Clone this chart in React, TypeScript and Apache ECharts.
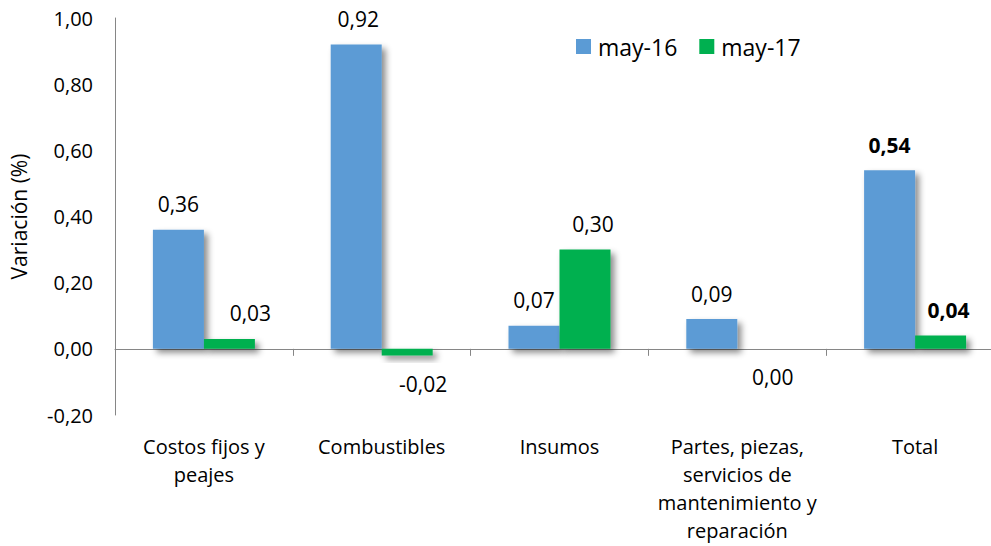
import React, { useEffect, useRef } from "react";
import * as echarts from "echarts";

const categories = [
  "Costos fijos y\npeajes",
  "Combustibles",
  "Insumos",
  "Partes, piezas,\nservicios de\nmantenimiento y\nreparación",
  "Total",
];
const seriesNames = ["may-16", "may-17"];
const may16 = [0.36, 0.92, 0.07, 0.09, 0.54];
const may17 = [0.03, -0.02, 0.3, 0.0, 0.04];
const yTicks = { min: -0.2, max: 1.0, interval: 0.2 };

// label styling per item (not data)
const may16LabelOffsets = [0, 2, 0, 0, 0];
const may17LabelOffsets = [21, 16, 8, 10, 8];
const may17LabelBelow = [false, true, false, true, false];
const boldIndex = 4;

const FONT = "'Open Sans', 'Noto Sans', sans-serif";
const fmt = (v: number) => v.toFixed(2).replace(".", ",");

export default function App() {
  const ref = useRef<HTMLDivElement>(null);
  useEffect(() => {
    if (!ref.current) return;
    const chart = echarts.init(ref.current, undefined, { renderer: "svg" });
    const shadow = {
      shadowColor: "rgba(0,0,0,0.45)",
      shadowBlur: 6,
      shadowOffsetX: 4,
      shadowOffsetY: 4,
    };
    const labelBase = {
      show: true,
      fontFamily: FONT,
      fontSize: 21,
      color: "#000",
      formatter: (p: any) => fmt(p.value),
    };
    chart.setOption({
      animation: false,
      textStyle: { fontFamily: FONT },
      grid: {
        left: 115,
        right: -13,
        top: 18,
        bottom: 131,
        containLabel: false,
        outerBoundsMode: "none",
      },
      legend: {
        data: seriesNames,
        left: 571,
        top: 30,
        icon: "rect",
        itemWidth: 15,
        itemHeight: 15,
        itemGap: 22,
        textStyle: { fontFamily: FONT, fontSize: 23, color: "#000", padding: [0, 0, 0, 2] },
      },
      xAxis: [
        {
          type: "category",
          data: categories,
          axisLine: { onZero: true, lineStyle: { color: "#868686", width: 1 } },
          axisTick: { show: true, length: 7, lineStyle: { color: "#868686" } },
          axisLabel: { show: false },
        },
        {
          type: "category",
          data: categories,
          position: "bottom",
          axisLine: { show: false, onZero: false },
          axisTick: { show: false },
          axisLabel: {
            show: true,
            margin: 17,
            fontFamily: FONT,
            fontSize: 20,
            lineHeight: 28,
            color: "#000",
            interval: 0,
          },
        },
      ],
      yAxis: {
        type: "value",
        min: yTicks.min,
        max: yTicks.max,
        interval: yTicks.interval,
        name: "Variación (%)",
        nameLocation: "middle",
        nameGap: 86,
        nameTextStyle: { fontFamily: FONT, fontSize: 21, color: "#000" },
        axisLine: { show: true, lineStyle: { color: "#868686", width: 1 } },
        axisTick: { show: false },
        splitLine: { show: false },
        axisLabel: {
          margin: 22,
          fontFamily: FONT,
          fontSize: 20,
          color: "#000",
          formatter: (v: number) => fmt(v),
        },
      },
      series: [
        {
          name: seriesNames[0],
          type: "bar",
          xAxisIndex: 0,
          barWidth: 51,
          barGap: "0%",
          itemStyle: { color: "#5B9BD5", ...shadow },
          label: { ...labelBase, position: "top", distance: 15 },
          data: may16.map((v, i) => ({
            value: v,
            label: {
              offset: [may16LabelOffsets[i], 0],
              fontWeight: i === boldIndex ? "bold" : "normal",
            },
          })),
        },
        {
          name: seriesNames[1],
          type: "bar",
          xAxisIndex: 0,
          barWidth: 51,
          barGap: "0%",
          itemStyle: { color: "#00B050", ...shadow },
          label: { ...labelBase, position: "top", distance: 15 },
          data: may17.map((v, i) => ({
            value: v,
            label: {
              offset: [may17LabelOffsets[i], 0],
              position: may17LabelBelow[i] ? "bottom" : "top",
              distance: may17LabelBelow[i] ? 18 : 15,
              fontWeight: i === boldIndex ? "bold" : "normal",
            },
          })),
        },
      ],
    });
    return () => chart.dispose();
  }, []);
  return (
    <div style={{ position: "fixed", left: 0, top: 0, width: 991, height: 546, background: "#fff" }}>
      <div ref={ref} style={{ width: 991, height: 546 }} />
    </div>
  );
}
